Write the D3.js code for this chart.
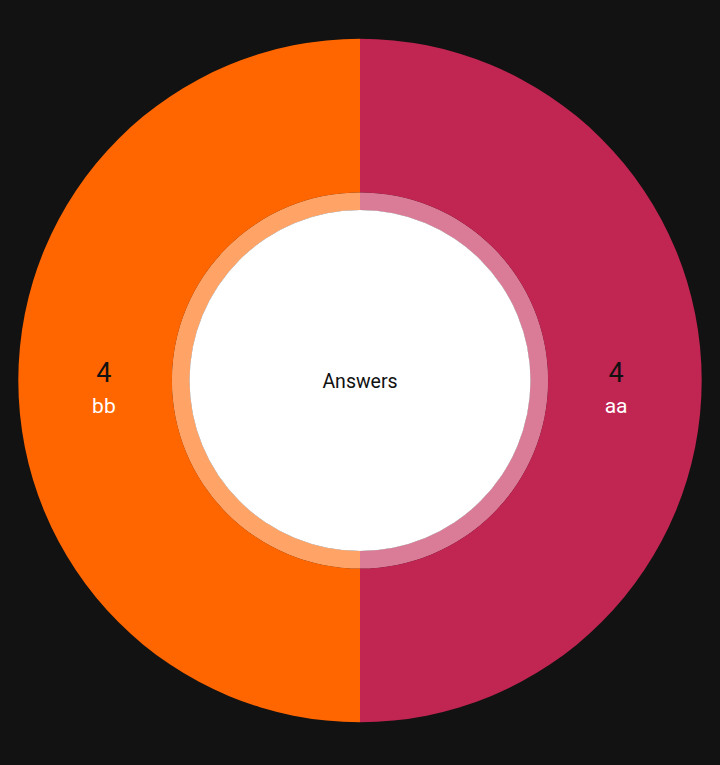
<!DOCTYPE html>
<html><head><meta charset="utf-8">
<script src="https://cdn.jsdelivr.net/npm/d3@7"></script>
<style>html,body{margin:0;padding:0;background:#121212;}svg{display:block;}</style>
</head><body>
<svg id="chart" width="720" height="765"></svg>
<script>
const categories = ["aa", "bb"];
const values = [4, 4];
const colors = ["#c12552", "#ff6600"];
const centerLabel = "Answers";

const svg = d3.select("#chart");
const cx = 360, cy = 380.5;
const outerR = 341.7, ringR = 188, innerR = 170.5;
const g = svg.append("g").attr("transform", `translate(${cx},${cy})`);

const data = categories.map((c, i) => ({ name: c, value: values[i], color: colors[i] }));
const pie = d3.pie().sort(null).value(d => d.value);
const arcs = pie(data);
const outerArc = d3.arc().innerRadius(ringR).outerRadius(outerR);
const ringArc = d3.arc().innerRadius(innerR).outerRadius(ringR);
const labelArc = d3.arc().innerRadius(innerR).outerRadius(outerR);

g.selectAll("path.outer").data(arcs).join("path").attr("class", "outer")
  .attr("d", outerArc).attr("fill", d => d.data.color);
g.selectAll("path.ring").data(arcs).join("path").attr("class", "ring")
  .attr("d", ringArc).attr("fill", d => d.data.color).attr("fill-opacity", 0.6);
g.selectAll("path.ringbg").data(arcs).join("path").attr("class", "ringbg")
  .attr("d", ringArc).attr("fill", "#ffffff").lower();
g.append("circle").attr("r", innerR).attr("fill", "#ffffff");

g.append("text").attr("text-anchor", "middle").attr("y", 7)
  .attr("font-family", "Roboto").attr("font-size", 19.5).attr("fill", "#111")
  .text(centerLabel);

const lbl = g.selectAll("g.lbl").data(arcs).join("g").attr("class", "lbl")
  .attr("transform", d => { const [x, y] = labelArc.centroid(d); return `translate(${x},${y})`; });
lbl.append("text").attr("text-anchor", "middle").attr("y", 1)
  .attr("font-family", "Roboto").attr("font-size", 27).attr("fill", "#111")
  .text(d => d.data.value);
lbl.append("text").attr("text-anchor", "middle").attr("y", 32)
  .attr("font-family", "Roboto").attr("font-size", 21).attr("fill", "#ffffff")
  .text(d => d.data.name);
</script>
</body></html>
